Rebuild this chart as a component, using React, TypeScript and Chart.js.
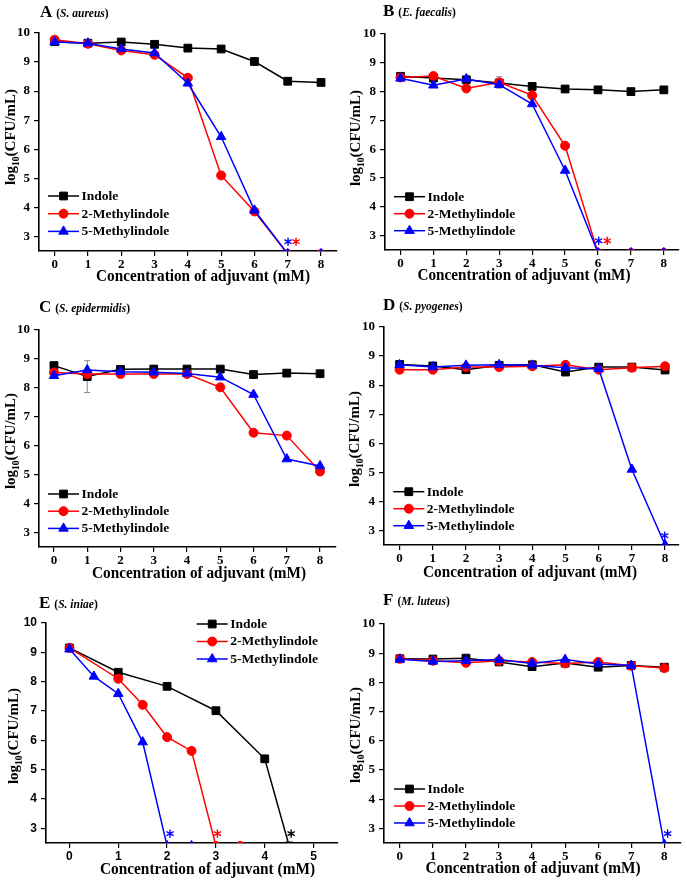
import React, { useEffect, useRef } from 'react';
import { Chart, registerables } from 'chart.js';

Chart.register(...registerables);

const SERIF = "'Liberation Serif', 'Times New Roman', serif";
const SANS = "'Liberation Sans', Arial, sans-serif";

// ---------- shared ----------
const seriesNames = ['Indole', '2-Methylindole', '5-Methylindole'];
const seriesColors = ['#000000', '#ff0000', '#0000ff'];
const seriesShapes = ['rect', 'circle', 'triangle'];
const pointRadii = [5.5, 4.5, 5.5];

const yTicks = [3, 4, 5, 6, 7, 8, 9, 10];
const xTicks8 = [0, 1, 2, 3, 4, 5, 6, 7, 8];
const xTicks5 = [0, 1, 2, 3, 4, 5];
const xTitleText = 'Concentration of adjuvant (mM)';
const starLevel = 2.82;

// ---------- A (S. aureus) ----------
const aX = [0, 1, 2, 3, 4, 5, 6, 7, 8];
const aIndole = [9.7, 9.65, 9.69, 9.61, 9.48, 9.45, 9.02, 8.34, 8.3];
const aMethyl2 = [9.77, 9.63, 9.4, 9.25, 8.46, 5.1, 3.86, 2.4, 2.4];
const aMethyl5 = [9.69, 9.65, 9.45, 9.31, 8.27, 6.43, 3.9, 2.4, 2.4];
const aStars = [{ s: 2, x: 7.01 }, { s: 1, x: 7.25 }];

// ---------- B (E. faecalis) ----------
const bX = [0, 1, 2, 3, 4, 5, 6, 7, 8];
const bIndole = [8.53, 8.47, 8.41, 8.3, 8.18, 8.09, 8.06, 8.0, 8.06];
const bMethyl2 = [8.49, 8.54, 8.11, 8.32, 7.87, 6.12, 2.4, 2.4, 2.4];
const bMethyl5 = [8.46, 8.22, 8.44, 8.24, 7.57, 5.26, 2.4, 2.4, 2.4];
const bErrors = [{ s: 1, x: 3, e: 0.2 }];
const bStars = [{ s: 2, x: 6.02 }, { s: 1, x: 6.28 }];

// ---------- C (S. epidermidis) ----------
const cX = [0, 1, 2, 3, 4, 5, 6, 7, 8];
const cIndole = [8.77, 8.39, 8.64, 8.65, 8.65, 8.65, 8.46, 8.51, 8.49];
const cMethyl2 = [8.53, 8.48, 8.48, 8.48, 8.48, 8.02, 6.45, 6.35, 5.11];
const cMethyl5 = [8.42, 8.62, 8.56, 8.54, 8.5, 8.37, 7.77, 5.54, 5.3];
const cErrors = [{ s: 0, x: 1, e: 0.55 }];

// ---------- D (S. pyogenes) ----------
const dX = [0, 1, 2, 3, 4, 5, 6, 7, 8];
const dIndole = [8.71, 8.66, 8.53, 8.68, 8.7, 8.45, 8.62, 8.62, 8.52];
const dMethyl2 = [8.53, 8.53, 8.62, 8.62, 8.65, 8.7, 8.53, 8.6, 8.65];
const dMethyl5 = [8.7, 8.62, 8.68, 8.7, 8.68, 8.6, 8.56, 5.1, 2.5];
const dStars = [{ s: 2, x: 7.99 }];

// ---------- E (S. iniae) ----------
const eXIndole = [0, 1, 2, 3, 4, 4.5];
const eIndole = [9.15, 8.32, 7.84, 7.01, 5.37, 2.4];
const eXMethyl2 = [0, 1, 1.5, 2, 2.5, 3, 3.5];
const eMethyl2 = [9.15, 8.1, 7.21, 6.11, 5.64, 2.4, 2.4];
const eXMethyl5 = [0, 0.5, 1, 1.5, 2, 2.5];
const eMethyl5 = [9.11, 8.18, 7.59, 5.94, 2.4, 2.4];
const eStars = [{ s: 2, x: 2.06 }, { s: 1, x: 3.03 }, { s: 0, x: 4.54 }];

// ---------- F (M. luteus) ----------
const fX = [0, 1, 2, 3, 4, 5, 6, 7, 8];
const fIndole = [8.81, 8.8, 8.83, 8.7, 8.54, 8.66, 8.52, 8.58, 8.52];
const fMethyl2 = [8.81, 8.74, 8.67, 8.74, 8.7, 8.65, 8.7, 8.57, 8.49];
const fMethyl5 = [8.79, 8.72, 8.74, 8.78, 8.65, 8.78, 8.63, 8.58, 2.45];
const fStars = [{ s: 2, x: 8.1 }];

type Series = { x: number[]; y: number[] };
type Panel = {
  letter: string;
  species: string;
  left: number;
  top: number;
  width: number;
  height: number;
  area: [number, number, number, number];
  xMin: number;
  xMax: number;
  xTicks: number[];
  series: Series[];
  errors: { s: number; x: number; e: number }[];
  stars: { s: number; x: number }[];
  legend: { x: number; y: number; gap: number };
  title: { x: number; y: number };
  xTitle: { cx: number; by: number; w: number };
  yTitle: { bx: number; cy: number };
  tickFamily: string;
  tickSize: number;
};

const panels: Panel[] = [
  {
    letter: 'A', species: 'S. aureus', left: 0, top: 0, width: 344, height: 294,
    area: [39, 33, 337, 251], xMin: -0.47, xMax: 8.48, xTicks: xTicks8,
    series: [{ x: aX, y: aIndole }, { x: aX, y: aMethyl2 }, { x: aX, y: aMethyl5 }],
    errors: [], stars: aStars,
    legend: { x: 48, y: 196, gap: 17.7 }, title: { x: 40, y: 17 },
    xTitle: { cx: 203, by: 281, w: 214 }, yTitle: { bx: 15, cy: 137 },
    tickFamily: SERIF, tickSize: 13,
  },
  {
    letter: 'B', species: 'E. faecalis', left: 344, top: 0, width: 343, height: 294,
    area: [41, 34, 335, 250], xMin: -0.47, xMax: 8.46, xTicks: xTicks8,
    series: [{ x: bX, y: bIndole }, { x: bX, y: bMethyl2 }, { x: bX, y: bMethyl5 }],
    errors: bErrors, stars: bStars,
    legend: { x: 50, y: 196.7, gap: 17 }, title: { x: 39, y: 16 },
    xTitle: { cx: 180, by: 280, w: 213 }, yTitle: { bx: 16, cy: 138 },
    tickFamily: SERIF, tickSize: 13,
  },
  {
    letter: 'C', species: 'S. epidermidis', left: 0, top: 294, width: 344, height: 294,
    area: [39, 36, 336, 253], xMin: -0.45, xMax: 8.48, xTicks: xTicks8,
    series: [{ x: cX, y: cIndole }, { x: cX, y: cMethyl2 }, { x: cX, y: cMethyl5 }],
    errors: cErrors, stars: [],
    legend: { x: 48, y: 200, gap: 17.2 }, title: { x: 39, y: 18 },
    xTitle: { cx: 199, by: 284, w: 214 }, yTitle: { bx: 15, cy: 147 },
    tickFamily: SERIF, tickSize: 13,
  },
  {
    letter: 'D', species: 'S. pyogenes', left: 344, top: 294, width: 343, height: 294,
    area: [40, 33, 335, 251], xMin: -0.47, xMax: 8.42, xTicks: xTicks8,
    series: [{ x: dX, y: dIndole }, { x: dX, y: dMethyl2 }, { x: dX, y: dMethyl5 }],
    errors: [], stars: dStars,
    legend: { x: 49.3, y: 197.7, gap: 17 }, title: { x: 39, y: 16 },
    xTitle: { cx: 186, by: 283, w: 214 }, yTitle: { bx: 15, cy: 145 },
    tickFamily: SERIF, tickSize: 13,
  },
  {
    letter: 'E', species: 'S. iniae', left: 0, top: 588, width: 344, height: 293,
    area: [46, 35, 340, 255], xMin: -0.48, xMax: 5.49, xTicks: xTicks5,
    series: [{ x: eXIndole, y: eIndole }, { x: eXMethyl2, y: eMethyl2 }, { x: eXMethyl5, y: eMethyl5 }],
    errors: [], stars: eStars,
    legend: { x: 196.7, y: 36, gap: 17.5 }, title: { x: 39, y: 20 },
    xTitle: { cx: 207.5, by: 286, w: 215 }, yTitle: { bx: 18, cy: 148 },
    tickFamily: SANS, tickSize: 12,
  },
  {
    letter: 'F', species: 'M. luteus', left: 344, top: 588, width: 343, height: 293,
    area: [40, 36, 338, 255], xMin: -0.48, xMax: 8.49, xTicks: xTicks8,
    series: [{ x: fX, y: fIndole }, { x: fX, y: fMethyl2 }, { x: fX, y: fMethyl5 }],
    errors: [], stars: fStars,
    legend: { x: 50, y: 201, gap: 17 }, title: { x: 39, y: 17 },
    xTitle: { cx: 189, by: 285, w: 215 }, yTitle: { bx: 16, cy: 147 },
    tickFamily: SERIF, tickSize: 13,
  },
];

function drawMarker(ctx: CanvasRenderingContext2D, shape: string, x: number, y: number, r: number, color: string) {
  ctx.save();
  ctx.fillStyle = color;
  ctx.strokeStyle = color;
  ctx.lineWidth = 1;
  ctx.beginPath();
  if (shape === 'rect') {
    const h = r * Math.SQRT1_2;
    ctx.rect(x - h, y - h, 2 * h, 2 * h);
  } else if (shape === 'circle') {
    ctx.arc(x, y, r, 0, Math.PI * 2);
  } else {
    ctx.moveTo(x, y - r);
    ctx.lineTo(x + 0.866 * r, y + 0.5 * r);
    ctx.lineTo(x - 0.866 * r, y + 0.5 * r);
    ctx.closePath();
  }
  ctx.fill();
  ctx.stroke();
  ctx.restore();
}

function drawStar(ctx: CanvasRenderingContext2D, x: number, y: number, r: number, color: string) {
  ctx.save();
  ctx.strokeStyle = color;
  ctx.lineWidth = 1.4;
  ctx.lineCap = 'round';
  ctx.beginPath();
  for (let k = 0; k < 3; k++) {
    const a = Math.PI / 2 + (k * Math.PI) / 3;
    ctx.moveTo(x + Math.cos(a) * r, y - Math.sin(a) * r);
    ctx.lineTo(x - Math.cos(a) * r, y + Math.sin(a) * r);
  }
  ctx.stroke();
  ctx.restore();
}

function makePlugin(p: Panel) {
  return {
    id: 'panelText',
    beforeDatasetsDraw(chart: any) {
      const ctx: CanvasRenderingContext2D = chart.ctx;
      const xs = chart.scales.x;
      const ys = chart.scales.y;
      ctx.save();
      ctx.strokeStyle = '#8a8a8a';
      ctx.lineWidth = 1;
      p.errors.forEach((er) => {
        const idx = p.series[er.s].x.indexOf(er.x);
        const v = p.series[er.s].y[idx];
        const px = xs.getPixelForValue(er.x);
        const y1 = ys.getPixelForValue(v + er.e);
        const y2 = ys.getPixelForValue(v - er.e);
        ctx.beginPath();
        ctx.moveTo(px, y1); ctx.lineTo(px, y2);
        ctx.moveTo(px - 3, y1); ctx.lineTo(px + 3, y1);
        ctx.moveTo(px - 3, y2); ctx.lineTo(px + 3, y2);
        ctx.stroke();
      });
      ctx.restore();
    },
    afterDraw(chart: any) {
      const ctx: CanvasRenderingContext2D = chart.ctx;
      const xs = chart.scales.x;
      const ys = chart.scales.y;
      ctx.save();
      // panel title
      ctx.fillStyle = '#000';
      ctx.textBaseline = 'alphabetic';
      ctx.textAlign = 'left';
      ctx.font = `bold 17px ${SERIF}`;
      ctx.fillText(p.letter, p.title.x, p.title.y);
      let tx = p.title.x + ctx.measureText(p.letter).width + 4;
      ctx.font = `bold 11.5px ${SERIF}`;
      ctx.fillText('(', tx, p.title.y);
      tx += ctx.measureText('(').width;
      ctx.font = `italic bold 11.5px ${SERIF}`;
      ctx.fillText(p.species, tx, p.title.y);
      tx += ctx.measureText(p.species).width;
      ctx.font = `bold 11.5px ${SERIF}`;
      ctx.fillText(')', tx, p.title.y);

      // x title
      ctx.font = `bold 16px ${SERIF}`;
      ctx.textAlign = 'center';
      ctx.fillText(xTitleText, p.xTitle.cx, p.xTitle.by, p.xTitle.w);

      // y title with subscript
      ctx.save();
      ctx.translate(p.yTitle.bx, p.yTitle.cy);
      ctx.rotate(-Math.PI / 2);
      ctx.textAlign = 'left';
      const big = `bold 15px ${SERIF}`;
      const small = `bold 9.5px ${SERIF}`;
      ctx.font = big;
      const w1 = ctx.measureText('log').width;
      const w3 = ctx.measureText('(CFU/mL)').width;
      ctx.font = small;
      const w2 = ctx.measureText('10').width;
      let sx = -(w1 + w2 + w3) / 2;
      ctx.font = big;
      ctx.fillText('log', sx, 0);
      sx += w1;
      ctx.font = small;
      ctx.fillText('10', sx, 4);
      sx += w2;
      ctx.font = big;
      ctx.fillText('(CFU/mL)', sx, 0);
      ctx.restore();

      // legend
      ctx.textAlign = 'left';
      ctx.textBaseline = 'middle';
      ctx.font = `bold 13.5px ${SERIF}`;
      seriesNames.forEach((name, i) => {
        const y = p.legend.y + i * p.legend.gap;
        ctx.strokeStyle = seriesColors[i];
        ctx.lineWidth = 1.5;
        ctx.beginPath();
        ctx.moveTo(p.legend.x, y);
        ctx.lineTo(p.legend.x + 31, y);
        ctx.stroke();
        drawMarker(ctx, seriesShapes[i], p.legend.x + 15.5, y, pointRadii[i], seriesColors[i]);
        ctx.fillStyle = '#000';
        ctx.fillText(name, p.legend.x + 33.5, y + 0.5);
      });

      // asterisks
      p.stars.forEach((st) => {
        const px = xs.getPixelForValue(st.x);
        const py = ys.getPixelForValue(starLevel);
        drawStar(ctx, px, py, 3.6, seriesColors[st.s]);
      });
      ctx.restore();
    },
  };
}

function PanelChart({ p }: { p: Panel }) {
  const ref = useRef<HTMLCanvasElement | null>(null);
  useEffect(() => {
    const canvas = ref.current;
    if (!canvas) return;
    const [L, T, R, B] = p.area;
    const tickFont = { family: p.tickFamily, size: p.tickSize, weight: 'bold' as const };
    const datasets = p.series.map((s, i) => ({
      label: seriesNames[i],
      data: s.x.map((xv, k) => ({ x: xv, y: s.y[k] })),
      borderColor: seriesColors[i],
      backgroundColor: seriesColors[i],
      borderWidth: 1.5,
      pointStyle: seriesShapes[i],
      pointRadius: pointRadii[i],
      pointBorderWidth: 1,
      pointBorderColor: seriesColors[i],
      pointBackgroundColor: seriesColors[i],
      tension: 0,
      clip: 0,
      order: 3 - i,
    }));
    const chart = new Chart(canvas, {
      type: 'line',
      data: { datasets },
      options: {
        responsive: false,
        animation: false,
        devicePixelRatio: 1,
        events: [],
        layout: { padding: { left: 0, top: T, right: p.width - R, bottom: 0 } },
        plugins: { legend: { display: false }, tooltip: { enabled: false } },
        scales: {
          x: {
            type: 'linear',
            min: p.xMin,
            max: p.xMax,
            afterBuildTicks: (s: any) => { s.ticks = p.xTicks.map((v) => ({ value: v })); },
            afterFit: (s: any) => { s.height = p.height - B; },
            ticks: { callback: (v: any) => String(v), font: tickFont, color: '#000', padding: 1, autoSkip: false, maxRotation: 0 },
            grid: { display: true, drawOnChartArea: false, drawTicks: true, tickLength: 5, color: '#000', lineWidth: 1.2 },
            border: { display: true, color: '#000', width: 1.6 },
          },
          y: {
            type: 'linear',
            min: 2.5,
            max: 10,
            afterBuildTicks: (s: any) => { s.ticks = yTicks.map((v) => ({ value: v })); },
            afterFit: (s: any) => { s.width = L; },
            ticks: { callback: (v: any) => String(v), font: tickFont, color: '#000', padding: 4, autoSkip: false },
            grid: { display: true, drawOnChartArea: false, drawTicks: true, tickLength: 5, color: '#000', lineWidth: 1.2 },
            border: { display: true, color: '#000', width: 1.6 },
          },
        },
      } as any,
      plugins: [makePlugin(p)],
    });
    return () => chart.destroy();
  }, [p]);
  return (
    <canvas
      ref={ref}
      width={p.width}
      height={p.height}
      style={{ position: 'absolute', left: p.left, top: p.top, width: p.width, height: p.height }}
    />
  );
}

export default function App() {
  return (
    <div style={{ position: 'absolute', left: 0, top: 0, width: 687, height: 881, background: '#fff', overflow: 'hidden' }}>
      {panels.map((p) => (
        <PanelChart key={p.letter} p={p} />
      ))}
    </div>
  );
}
